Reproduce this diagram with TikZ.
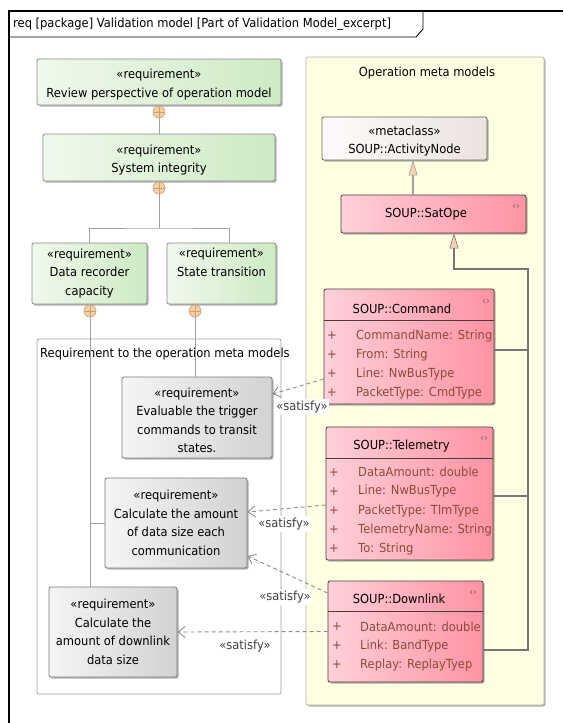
\documentclass[tikz,border=0pt]{standalone}
\usepackage{fontspec}
\setmainfont{DejaVu Sans}[FakeStretch=0.92]
\usetikzlibrary{arrows.meta,shadows,calc}
\definecolor{greenA}{HTML}{F0F9EC}
\definecolor{greenB}{HTML}{CDEAC4}
\definecolor{grayA}{HTML}{F5F5F5}
\definecolor{grayB}{HTML}{D2D2D2}
\definecolor{pinkA}{HTML}{FFD0D8}
\definecolor{pinkB}{HTML}{FF93A3}
\definecolor{metaA}{HTML}{FDFBFA}
\definecolor{metaB}{HTML}{EBE3DF}
\definecolor{pkgY}{HTML}{FEFEE2}
\definecolor{pkgYB}{HTML}{B4B4A4}
\definecolor{boxB}{HTML}{8A8A8A}
\definecolor{clsB}{HTML}{4A3C3C}
\definecolor{attrC}{HTML}{8C4A3C}
\definecolor{contF}{HTML}{F5CFA0}
\definecolor{contD}{HTML}{C8A27A}
\definecolor{genF}{HTML}{F5D3AE}
\definecolor{connC}{HTML}{A0A0A0}
\definecolor{genC}{HTML}{767676}
\definecolor{satC}{HTML}{8C8C8C}
\begin{document}
\begin{tikzpicture}[x=1pt,y=-1pt,
  every node/.style={font=\fontsize{12.5}{18.5}\selectfont, inner sep=0pt},
  shad/.style={drop shadow={shadow xshift=1.5pt,shadow yshift=-1.5pt,opacity=0.3,fill=black}},
  reqg/.style={draw=boxB, line width=0.8pt, rounded corners=2pt, left color=greenA, right color=greenB, align=center, shad},
  reqgr/.style={draw=boxB!90!black, line width=0.8pt, rounded corners=2pt, left color=grayA, right color=grayB, align=center, shad},
  cls/.style={draw=clsB, line width=0.8pt, rounded corners=2pt, left color=pinkA, right color=pinkB, shad},
  meta/.style={draw=clsB!80, line width=0.8pt, rounded corners=2pt, left color=metaA, right color=metaB, align=center, shad},
  plus/.style={text=attrC},
  attr/.style={text=attrC, anchor=west},
  icon/.style={text=black!60, font=\fontsize{10}{10}\selectfont},
  cont/.style={circle, minimum size=12pt, draw=contD, line width=0.6pt, fill=contF,
    path picture={\draw[contD, line width=0.6pt] (path picture bounding box.north) -- (path picture bounding box.south)
      (path picture bounding box.west) -- (path picture bounding box.east);}},
  conn/.style={draw=connC, line width=1pt},
  genline/.style={draw=genC, line width=1.2pt},
  gentip/.style={-{Triangle[length=15pt,width=9pt,fill=genF,line width=0.6pt]}},
  sat/.style={draw=satC, line width=0.9pt, dash pattern=on 4pt off 3pt, -{Straight Barb[length=7pt,width=11pt,line width=0.9pt]}},
  satlbl/.style={fill=white, inner sep=1.5pt, text=black!75}
]
\useasboundingbox (0,0) rectangle (563,723);
\fill[white] (0,0) rectangle (563,723);

% frame
\draw[line width=2.5pt] (8,11) -- (563,11);
\draw[line width=2.5pt] (9,11) -- (9,723);
\draw[line width=0.9pt] (9,37) -- (416,37) -- (423,29) -- (423,11);
\node[anchor=west] (hdr) at (13,24) {req [package] Validation model [Part of Validation Model\_excerpt]};

% packages
\node[draw=pkgYB, line width=0.8pt, fill=pkgY, rounded corners=2pt, minimum width=238pt, minimum height=648pt, shad] (opm) at (425,381) {};
\node (opmL) at (427,73) {Operation meta models};
\node[draw=connC, line width=0.8pt, fill=white, rounded corners=2pt, minimum width=244pt, minimum height=355pt] (rpk) at (159,516.5) {};
\node[anchor=west] (rpkL) at (40,354) {Requirement to the operation meta models};

% requirements
\node[reqg, minimum width=244pt, minimum height=46pt] (rev) at (159,82) {\rule{0pt}{15pt}«requirement»\\Review perspective of operation model};
\node[reqg, minimum width=232pt, minimum height=47pt] (sys) at (159,157.5) {\rule{0pt}{15pt}«requirement»\\System integrity};
\node[reqg, minimum width=115pt, minimum height=61pt] (drc) at (89.5,273.5) {«requirement»\\Data recorder\\capacity};
\node[reqg, minimum width=109pt, minimum height=61pt] (st) at (221.5,273.5) {«requirement»\\State transition\\[-2pt]\strut};
\node[reqgr, minimum width=150pt, minimum height=81pt] (ev) at (197,417.5) {\rule{0pt}{15pt}«requirement»\\Evaluable the trigger\\commands to transit\\states.};
\node[reqgr, minimum width=142pt, minimum height=90pt] (cdata) at (176,523) {«requirement»\\Calculate the amount\\of data size each\\communication};
\node[reqgr, minimum width=128pt, minimum height=90pt] (cdl) at (113,632) {«requirement»\\Calculate the\\amount of downlink\\data size};

% containment
\node[cont] (c1) at (159,112) {};
\node[cont] (c2) at (159,188) {};
\node[cont] (c3) at (90,311) {};
\node[cont] (c4) at (195,311) {};
\coordinate (jn) at (159,228);
\draw[conn] (c1) -- (sys);
\draw[conn] (c2) -- (jn);
\draw[conn] (drc.north) |- (jn) -| ([xshift=7.5pt]st.north);
\draw[conn] (c3) -- (c3 |- cdl.north);
\draw[conn] (c3 |- cdata.west) -- (cdata.west);
\draw[conn] (c4) -- (c4 |- ev.north);

% metaclasses
\node[meta, minimum width=165pt, minimum height=43pt] (act) at (404.5,138.5) {\rule{0pt}{15pt}«metaclass»\\SOUP::ActivityNode};
\node[cls, minimum width=185pt, minimum height=38pt] (sat) at (433.5,214) {};
\node (satT) at (426,214) {SOUP::SatOpe};
\node[icon] (satI) at (516,207) {‹›};

% Command
\node[cls, minimum width=170pt, minimum height=115pt] (cmd) at (409,346.5) {};
\draw[clsB, line width=0.8pt] ([yshift=-32pt]cmd.north west) -- ([yshift=-32pt]cmd.north east);
\node (cmdT) at (402,309) {SOUP::Command};
\node[icon] (cmdI) at (486,302) {‹›};
\foreach \t [count=\i] in {CommandName: String, From: String, Line: NwBusType, PacketType: CmdType}{
  \node[plus] (cmdp\i) at (332,317+19*\i) {+};
  \node[attr] (cmda\i) at (356,317+19*\i) {\t};
}

% Telemetry
\node[cls, minimum width=167pt, minimum height=133pt] (tel) at (409.5,493.5) {};
\draw[clsB, line width=0.8pt] ([yshift=-32pt]tel.north west) -- ([yshift=-32pt]tel.north east);
\node (telT) at (401.5,446) {SOUP::Telemetry};
\node[icon] (telI) at (484,439) {‹›};
\foreach \t [count=\i] in {DataAmount: double, Line: NwBusType, PacketType: TlmType, TelemetryName: String, To: String}{
  \node[plus] (telp\i) at (334,453+19.2*\i) {+};
  \node[attr] (tela\i) at (358,453+19.2*\i) {\t};
}

% Downlink
\node[cls, minimum width=155pt, minimum height=101pt] (dl) at (405.5,631.5) {};
\draw[clsB, line width=0.8pt] ([yshift=-31pt]dl.north west) -- ([yshift=-31pt]dl.north east);
\node (dlT) at (399,599) {SOUP::Downlink};
\node[icon] (dlI) at (473,593) {‹›};
\foreach \t [count=\i] in {DataAmount: double, Link: BandType, Replay: ReplayTyep}{
  \node[plus] (dlp\i) at (337,608+19*\i) {+};
  \node[attr] (dla\i) at (360,608+19*\i) {\t};
}

% generalizations
\coordinate (g1) at ([xshift=-20.5pt]sat.north);
\draw[genline, draw=connC, gentip] (g1) -- (g1 |- act.south);
\coordinate (bus) at (528,269);
\coordinate (g2) at ([xshift=20.5pt]sat.south);
\draw[genline, gentip] ([yshift=-3.5pt]cmd.east) -| (bus) -| (g2);
\draw[genline] ([yshift=-2.5pt]tel.east) -| (bus);
\draw[genline] ([yshift=-18.5pt]dl.east) -| (bus);

% satisfy
\draw[sat] ([yshift=-32.5pt]cmd.west) -- ([yshift=23.5pt]ev.east);
\draw[sat] ([yshift=-11.5pt]tel.west) -- ([yshift=11pt]cdata.east);
\draw[sat] ([yshift=38.5pt]dl.west) -- ([yshift=-33pt]cdata.east);
\draw[sat] (dl.west) -- (cdl.east);
\node[satlbl] (s1) at (302,407) {«satisfy»};
\node[satlbl] (s2) at (284,524) {«satisfy»};
\node[satlbl] (s3) at (285,597) {«satisfy»};
\node[satlbl] (s4) at (245,646) {«satisfy»};
\end{tikzpicture}
\end{document}
